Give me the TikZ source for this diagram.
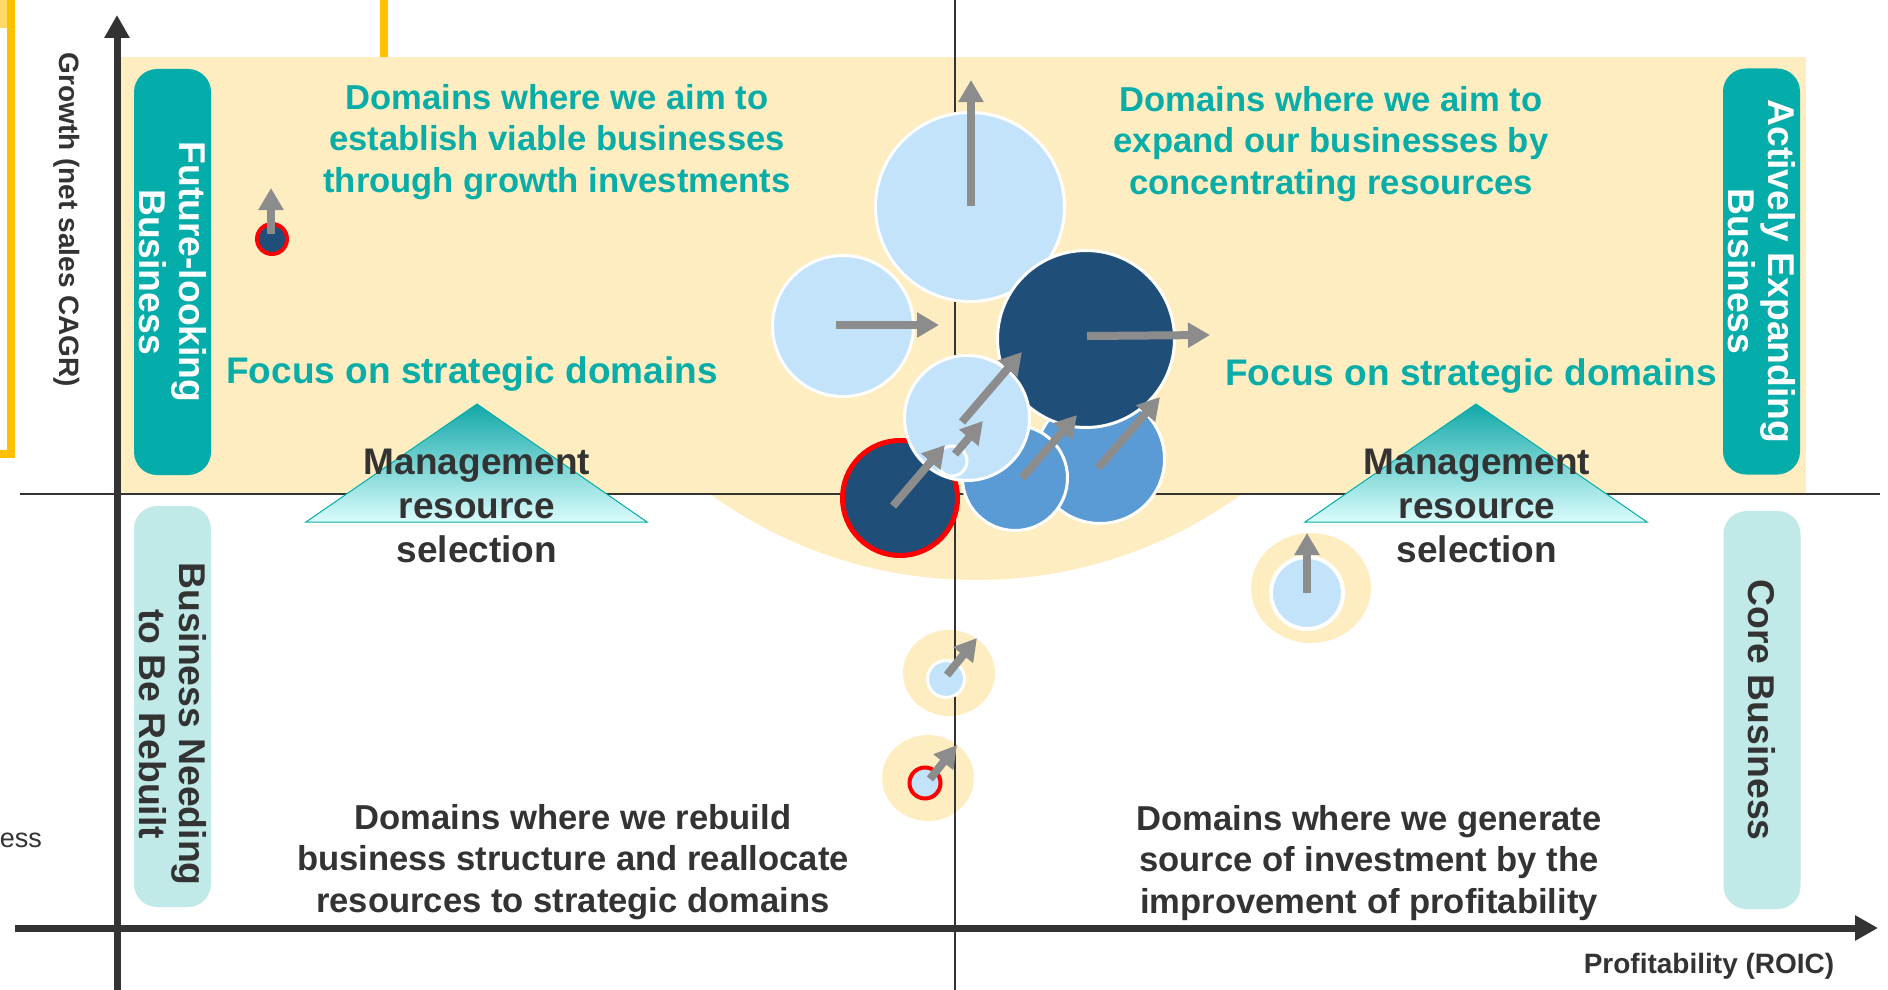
\documentclass[tikz,border=0pt]{standalone}
\usepackage{fontspec}
\setmainfont{Liberation Sans}
\usetikzlibrary{arrows.meta}
\definecolor{tanbg}{HTML}{FFEDC2}
\definecolor{tealtxt}{HTML}{08ADA8}
\definecolor{tealbox}{HTML}{05ADAA}
\definecolor{ltealbox}{HTML}{C0E9E7}
\definecolor{darktxt}{HTML}{333333}
\definecolor{lblue}{HTML}{C3E3FB}
\definecolor{navy}{HTML}{1F4E79}
\definecolor{mblue}{HTML}{5B9BD5}
\definecolor{agray}{HTML}{8C8C8C}
\definecolor{axgray}{HTML}{333333}
\definecolor{orangeC}{HTML}{FFC000}
\definecolor{lyel}{HTML}{FFD966}
\definecolor{tritop}{HTML}{12A8A8}
\definecolor{tribot}{HTML}{DAFCFC}
\newcommand\fsbig{\fontsize{34.6pt}{41.5pt}\selectfont\bfseries}
\newcommand\fsbox{\fontsize{37.3pt}{40pt}\selectfont\bfseries}
\newcommand\fsmid{\fontsize{28pt}{32pt}\selectfont\bfseries}
\begin{document}
\begin{tikzpicture}[x=1pt,y=-1pt,
  bub/.style={circle, inner sep=0pt, draw=white, line width=3pt},
  garrow/.style={draw=agray, line width=8pt, -{Triangle[length=22pt,width=24pt]}},
  axisline/.style={draw=axgray, line width=7pt, -{Triangle[length=23pt,width=24pt]}},
  thinline/.style={draw=axgray, line width=2pt},
  vbox/.style={rounded corners=23pt, rotate=-90, minimum width=406pt, minimum height=77pt, inner sep=0pt, align=center, font=\fsbox},
  vtxt/.style={rotate=-90, inner sep=0pt, align=center, font=\fsbox},
  bigtxt/.style={font=\fsbig, align=center, inner sep=0pt}]
\useasboundingbox (0,0) rectangle (1888,990);
\fill[white] (0,0) rectangle (1888,990);
% cut-off frames at the top left
\fill[lyel] (0,0) rectangle (7,28);
\draw[orangeC, line width=8pt] (11,-5) |- (-5,454);
\draw[orangeC, line width=8pt] (384,-5) -- (384,60);
% backgrounds
\fill[tanbg] (120,57) rectangle (1806,494);
\begin{scope}
  \clip (700,494) rectangle (1260,600);
  \fill[tanbg] (976,126) circle (454pt);
\end{scope}
\fill[tanbg] (1311,588) ellipse [x radius=60pt, y radius=55pt];
\fill[tanbg] (949,673) ellipse [x radius=46pt, y radius=43pt];
\fill[tanbg] (928,778) ellipse [x radius=46pt, y radius=43pt];
% quadrant lines
\coordinate (hl) at (20,494); \coordinate (hr) at (1880,494);
\coordinate (vt) at (955,0); \coordinate (vb) at (955,990);
\draw[thinline] (hl) -- (hr);
\draw[thinline] (vt) -- (vb);
% triangles
\shade[top color=tritop, bottom color=tribot, draw=tealbox, line width=1pt] (477,404) -- (647,522) -- (306,522) -- cycle;
\shade[top color=tritop, bottom color=tribot, draw=tealbox, line width=1pt] (1476,404) -- (1647,522) -- (1305,522) -- cycle;
% bubbles
\node (b1) [bub, fill=lblue, minimum size=189pt] at (970,207) {};
\node (b2) [bub, fill=lblue, minimum size=141pt] at (843,326) {};
\node (b6) [bub, fill=mblue, minimum size=129pt] at (1100,459) {};
\node (b3) [bub, fill=navy, minimum size=177pt] at (1086,339) {};
\node (b5) [bub, fill=mblue, minimum size=105pt] at (1015,478) {};
\node (b7) [bub, fill=navy, draw=red, line width=5pt, minimum size=115pt] at (900,498) {};
\node (b4) [bub, fill=lblue, minimum size=125pt] at (967,418) {};
\node (b8) [bub, fill=lblue, minimum size=30pt] at (952,461) {};
\node (f1) [bub, fill=navy, draw=red, line width=4pt, minimum size=30pt] at (272,239) {};
\node (s1) [bub, fill=lblue, minimum size=37pt] at (946,679) {};
\node (s2) [bub, fill=lblue, draw=red, line width=4pt, minimum size=31pt] at (925,783) {};
\node (s3) [bub, fill=lblue, draw=white, line width=4pt, minimum size=72pt] at (1307,593) {};
% arrows
\coordinate (t1) at (971,80);
\coordinate (t2) at (939,325);
\coordinate (t3) at (1210,335);
\coordinate (t7) at (945,445);
\coordinate (t8) at (983,421);
\coordinate (t4) at (1022,352);
\coordinate (t5) at (1077,415);
\coordinate (t6) at (1160,397);
\coordinate (tf) at (271,188);
\coordinate (ts1) at (977,638);
\coordinate (ts2) at (957,745);
\coordinate (ts3) at (1307,533);
\coordinate (a8) at (955,454);
\coordinate (a4) at (962,422);
\coordinate (a5) at (1022,478);
\coordinate (a6) at (1098,468);
\coordinate (a7) at (893,506);
\draw[garrow] (971,206) -- (t1);
\draw[garrow] (836,325) -- (t2);
\draw[garrow] (1087,336) -- (t3);
\draw[garrow] (a7) -- (t7);
\draw[garrow] (a8) -- (t8);
\draw[garrow] (a4) -- (t4);
\draw[garrow] (a5) -- (t5);
\draw[garrow] (a6) -- (t6);
\draw[garrow] (271,234) -- (tf);
\draw[garrow] (947,675) -- (ts1);
\draw[garrow] (930,779) -- (ts2);
\draw[garrow] (s3.center) -- (ts3);
% vertical category boxes
\node (flb) [vbox, fill=tealbox, text=white] at (172.5,272) {Future-looking\\Business};
\node (aeb) [vbox, fill=tealbox, text=white] at (1761.5,271.5) {Actively Expanding\\Business};
\node (bnbox) [vbox, fill=ltealbox, minimum width=401pt] at (172.5,706.5) {};
\node (bnb) [vtxt, text=darktxt] at (172.5,724) {Business Needing\\to Be Rebuilt\hspace{38pt}};
\node (cbb) [vbox, fill=ltealbox, text=darktxt, minimum width=398pt] at (1762,710) {Core Business};
% texts
\node (tl) [bigtxt, text=tealtxt] at (557,142) {Domains where we aim to\\establish viable businesses\\through growth investments};
\node (tr) [bigtxt, text=tealtxt] at (1331,144) {Domains where we aim to\\expand our businesses by\\concentrating resources};
\node (fl) [bigtxt, text=tealtxt, font=\fontsize{37pt}{42pt}\selectfont\bfseries, anchor=base] at (472,383) {Focus on strategic domains};
\node (fr) [bigtxt, text=tealtxt, font=\fontsize{37pt}{42pt}\selectfont\bfseries, anchor=base] at (1471,385) {Focus on strategic domains};
\node (ml) [bigtxt, text=darktxt, font=\fontsize{37pt}{44pt}\selectfont\bfseries] at (477,506) {Management\\resource\\selection};
\node (mr) [bigtxt, text=darktxt, font=\fontsize{37pt}{44pt}\selectfont\bfseries] at (1477,506) {Management\\resource\\selection};
\node (bl) [bigtxt, text=darktxt] at (573,862) {Domains where we rebuild\\business structure and reallocate\\resources to strategic domains};
\node (br) [bigtxt, text=darktxt] at (1369,863) {Domains where we generate\\source of investment by the\\improvement of profitability};
\node (ylab) [rotate=-90, font=\fsmid, text=darktxt, inner sep=0pt] at (67,220) {Growth (net sales CAGR)};
\node (xlab) [font=\fsmid, text=darktxt, inner sep=0pt] at (1709,966) {Profitability (ROIC)};
\node (ess) [anchor=east, font=\fontsize{27pt}{30pt}\selectfont, text=darktxt, inner sep=0pt] at (42,840) {ess};
% main axes
\coordinate (yb) at (117,995); \coordinate (yt) at (117,15);
\coordinate (xl) at (15,928); \coordinate (xr) at (1878,928);
\draw[axisline] (yb) -- (yt);
\draw[axisline] (xl) -- (xr);
\end{tikzpicture}
\end{document}
